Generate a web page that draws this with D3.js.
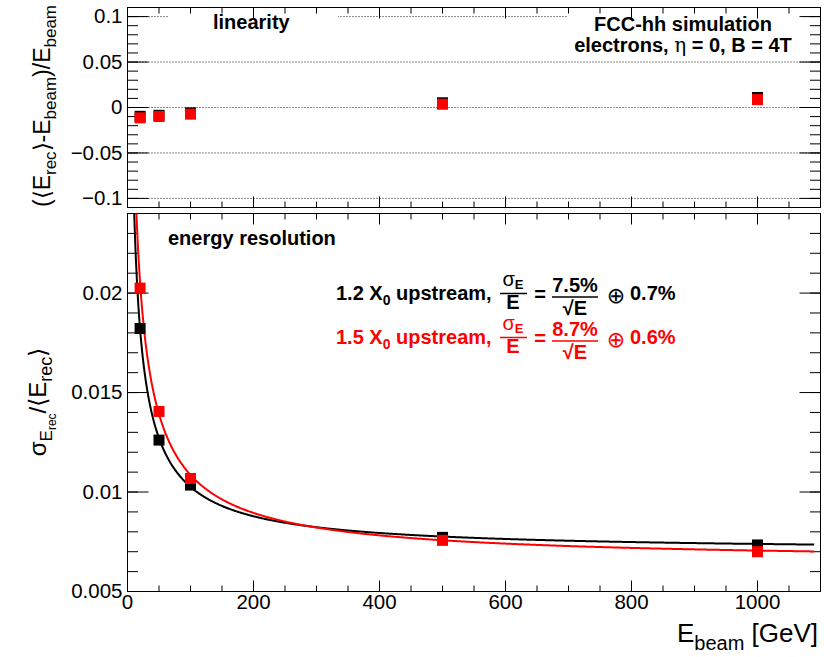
<!DOCTYPE html>
<html>
<head>
<meta charset="utf-8">
<script src="https://cdn.jsdelivr.net/npm/d3@7"></script>
<style>
  body { margin: 0; background: #fff; }
  svg { display: block; font-family: "Liberation Sans", Arial, Helvetica, sans-serif; }
</style>
</head>
<body>
<svg id="chart" width="824" height="657"></svg>
<script>
// beam energies [GeV]
const energies = [20, 50, 100, 500, 1000];

// linearity (<E_rec>-E_beam)/E_beam, 1.2 X0 (black) and 1.5 X0 (red)
const linearity12 = [-0.0097, -0.0086, -0.0059, 0.0052, 0.0110];
const linearity15 = [-0.0114, -0.0099, -0.0073, 0.0036, 0.0087];

// resolution sigma/<E_rec>
const resolution12 = [0.01822, 0.01261, 0.01035, 0.00772, 0.00734];
const resolution15 = [0.02025, 0.01405, 0.01068, 0.00757, 0.00700];

// fit a/sqrt(E) (+) c
const fitStochastic = [0.075, 0.087];
const fitConstant = [0.007, 0.0065];

const seriesColors = ["#000000", "#ff0000"];
const upstreamX0 = ["1.2", "1.5"];
const stochLabels = ["7.5%", "8.7%"];
const constLabels = ["0.7%", "0.6%"];

const linTicks = [-0.1, -0.05, 0, 0.05, 0.1];
const resTicks = [0.005, 0.01, 0.015, 0.02];
const energyTicks = [0, 200, 400, 600, 800, 1000];

const FONT = '"Liberation Sans", Arial, Helvetica, sans-serif';

const svg = d3.select("#chart");
svg.append("rect").attr("width", 824).attr("height", 657).attr("fill", "#fff");

const left = 127.5, right = 820.5;
const topP = { y0: 7.5, y1: 207.5 };
const botP = { y0: 213.5, y1: 591.5 };

const x = d3.scaleLinear().domain([0, 1100]).range([left, right]);
const yLin = d3.scaleLinear().domain([-0.11, 0.11]).range([topP.y1, topP.y0]);
const yRes = d3.scaleLinear().domain([0.005, 0.024]).range([botP.y1, botP.y0]);

const fmtMinus = d => String(d).replace("-", "\u2212");

// one set of tick marks (and maybe labels) via d3 axis
function ticks(axisFn, scale, transform, values, len, fmt) {
  const ax = axisFn(scale).tickValues(values).tickSize(-len).tickSizeOuter(0)
    .tickPadding(5).offset(0).tickFormat(fmt || (() => ""));
  const g = svg.append("g").attr("transform", transform).call(ax);
  g.select(".domain").remove();
  g.attr("font-family", FONT).attr("font-size", 20.5);
  g.selectAll(".tick line").attr("stroke", "#000");
  g.selectAll(".tick text").attr("fill", "#000");
  return g;
}

const minorE = d3.range(0, 1101, 50);
const minorLin = d3.range(-11, 12).map(i => i / 100);
const minorRes = d3.range(5, 24).map(i => i / 1000);

// ---- top panel: linearity ----
const grid = svg.append("g");
linTicks.forEach(t => {
  grid.append("line")
    .attr("x1", left).attr("x2", right)
    .attr("y1", yLin(t)).attr("y2", yLin(t))
    .attr("stroke", "#111").attr("stroke-dasharray", "1,2");
});

// pave boxes hide the grid underneath
svg.append("rect").attr("x", 168).attr("y", 8).attr("width", 170).attr("height", 30).attr("fill", "#fff");
svg.append("rect").attr("x", 567).attr("y", 8).attr("width", 236).attr("height", 50).attr("fill", "#fff");

svg.append("text").attr("x", 213).attr("y", 29).attr("font-size", 20).attr("font-weight", "bold")
  .text("linearity");
const fcc = svg.append("g").attr("font-size", 20).attr("font-weight", "bold").attr("text-anchor", "middle");
fcc.append("text").attr("x", 683).attr("y", 31).text("FCC-hh simulation");
const el = fcc.append("text").attr("x", 683).attr("y", 52);
el.append("tspan").text("electrons, ");
el.append("tspan").attr("font-weight", "normal").attr("font-family", "DejaVu Serif, serif").text("\u03b7");
el.append("tspan").text(" = 0, B = 4T");

ticks(d3.axisLeft, yLin, `translate(${left},0)`, linTicks, 21, fmtMinus);
ticks(d3.axisLeft, yLin, `translate(${left},0)`, minorLin, 10.5);
ticks(d3.axisRight, yLin, `translate(${right},0)`, linTicks, 21);
ticks(d3.axisRight, yLin, `translate(${right},0)`, minorLin, 10.5);
ticks(d3.axisTop, x, `translate(0,${topP.y0})`, energyTicks, 11);
ticks(d3.axisTop, x, `translate(0,${topP.y0})`, minorE, 6);
ticks(d3.axisBottom, x, `translate(0,${topP.y1})`, energyTicks, 11);
ticks(d3.axisBottom, x, `translate(0,${topP.y1})`, minorE, 6);

svg.append("rect").attr("x", left).attr("y", topP.y0)
  .attr("width", right - left).attr("height", topP.y1 - topP.y0)
  .attr("fill", "none").attr("stroke", "#000");

const MS = 11;
[linearity12, linearity15].forEach((vals, i) => {
  svg.append("g").selectAll("rect").data(vals).join("rect")
    .attr("x", (d, j) => x(energies[j]) - MS / 2)
    .attr("y", d => yLin(d) - MS / 2)
    .attr("width", MS).attr("height", MS)
    .attr("fill", seriesColors[i]);
});

// ---- bottom panel: resolution ----
ticks(d3.axisLeft, yRes, `translate(${left},0)`, resTicks, 21, d => String(d));
ticks(d3.axisLeft, yRes, `translate(${left},0)`, minorRes, 10.5);
ticks(d3.axisRight, yRes, `translate(${right},0)`, resTicks, 21);
ticks(d3.axisRight, yRes, `translate(${right},0)`, minorRes, 10.5);
ticks(d3.axisBottom, x, `translate(0,${botP.y1})`, energyTicks, 11, d => String(d))
  .selectAll(".tick text").attr("dy", "0.6em");
ticks(d3.axisBottom, x, `translate(0,${botP.y1})`, minorE, 6);
ticks(d3.axisTop, x, `translate(0,${botP.y0})`, energyTicks, 11);
ticks(d3.axisTop, x, `translate(0,${botP.y0})`, minorE, 6);

svg.append("rect").attr("x", left).attr("y", botP.y0)
  .attr("width", right - left).attr("height", botP.y1 - botP.y0)
  .attr("fill", "none").attr("stroke", "#000");

svg.append("clipPath").attr("id", "clipRes").append("rect")
  .attr("x", left).attr("y", botP.y0).attr("width", right - left).attr("height", botP.y1 - botP.y0);

const fitE = d3.range(2, 1091, 1);
const fitLine = d3.line().x(d => x(d[0])).y(d => yRes(d[1]));
fitStochastic.forEach((a, i) => {
  const pts = fitE.map(e => [e, Math.hypot(a / Math.sqrt(e), fitConstant[i])]);
  svg.append("path").attr("d", fitLine(pts)).attr("clip-path", "url(#clipRes)")
    .attr("fill", "none").attr("stroke", seriesColors[i]).attr("stroke-width", 2);
});

[resolution12, resolution15].forEach((vals, i) => {
  svg.append("g").selectAll("rect").data(vals).join("rect")
    .attr("x", (d, j) => x(energies[j]) - MS / 2)
    .attr("y", d => yRes(d) - MS / 2)
    .attr("width", MS).attr("height", MS)
    .attr("fill", seriesColors[i]);
});

svg.append("text").attr("x", 168).attr("y", 245).attr("font-size", 20).attr("font-weight", "bold")
  .text("energy resolution");

// legend with the fitted resolution formula
const baselines = [300, 344];
upstreamX0.forEach((lab, i) => {
  const B = baselines[i];
  const g = svg.append("g").attr("fill", seriesColors[i]).attr("font-size", 20).attr("font-weight", "bold");
  const t = g.append("text").attr("x", 336).attr("y", B);
  t.append("tspan").text(lab + " X");
  t.append("tspan").attr("font-size", 14).attr("dy", 5).text("0");
  t.append("tspan").attr("dy", -5).text(" upstream,");

  // sigma_E / E
  const n1 = g.append("text").attr("x", 513).attr("y", B - 14).attr("text-anchor", "middle");
  n1.append("tspan").attr("font-weight", "normal").text("\u03c3");
  n1.append("tspan").attr("font-size", 13).attr("dy", 3).text("E");
  g.append("line").attr("x1", 500).attr("x2", 527).attr("y1", B - 6.5).attr("y2", B - 6.5)
    .attr("stroke", seriesColors[i]).attr("stroke-width", 1.5);
  g.append("text").attr("x", 513).attr("y", B + 9).attr("text-anchor", "middle").text("E");
  g.append("text").attr("x", 540).attr("y", B + 1).attr("text-anchor", "middle").text("=");

  // a / sqrt(E)
  g.append("text").attr("x", 575).attr("y", B - 8).attr("text-anchor", "middle").text(stochLabels[i]);
  g.append("line").attr("x1", 552).attr("x2", 598).attr("y1", B - 3).attr("y2", B - 3)
    .attr("stroke", seriesColors[i]).attr("stroke-width", 1.5);
  g.append("text").attr("x", 575).attr("y", B + 15).attr("text-anchor", "middle").text("\u221aE");

  g.append("text").attr("x", 616).attr("y", B + 3).attr("text-anchor", "middle")
    .attr("font-weight", "normal").attr("font-family", "DejaVu Sans").attr("font-size", 22).text("\u2295");
  g.append("text").attr("x", 630).attr("y", B).text(constLabels[i]);
});

// ---- axis titles ----
const xt = svg.append("text").attr("x", 818).attr("y", 642).attr("text-anchor", "end").attr("font-size", 26);
xt.append("tspan").text("E");
xt.append("tspan").attr("font-size", 20).attr("dy", 8).text("beam");
xt.append("tspan").attr("dy", -8).text(" [GeV]");

const yt1 = svg.append("text").attr("transform", "translate(50,106) rotate(-90)")
  .attr("text-anchor", "middle").attr("font-size", 23);
[["(\u27e8E", 0], ["rec", 1], ["\u27e9-E", 0], ["beam", 1], [")/E", 0], ["beam", 1]].forEach(([s, sub], k, arr) => {
  const prevSub = k > 0 ? arr[k - 1][1] : 0;
  yt1.append("tspan").attr("font-size", sub ? 17 : 23).attr("dy", (sub - prevSub) * 6).text(s);
});

const yt2 = svg.append("text").attr("transform", "translate(46,402) rotate(-90)")
  .attr("text-anchor", "middle").attr("font-size", 24);
yt2.append("tspan").text("\u03c3");
yt2.append("tspan").attr("font-size", 17).attr("dy", 6).text("E");
yt2.append("tspan").attr("font-size", 12).attr("dy", 4).text("rec");
yt2.append("tspan").attr("dy", -10).text("/\u27e8E");
yt2.append("tspan").attr("font-size", 18).attr("dy", 6).text("rec");
yt2.append("tspan").attr("dy", -6).text("\u27e9");
</script>
</body>
</html>
